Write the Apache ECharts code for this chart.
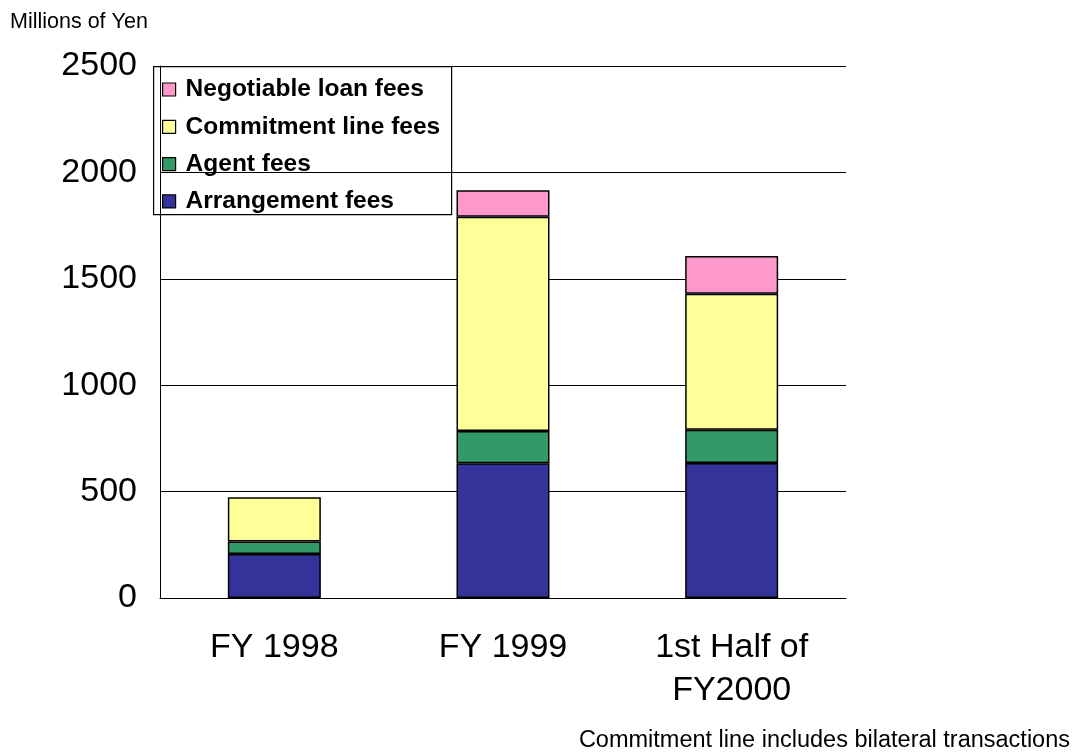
<!DOCTYPE html>
<html><head><meta charset="utf-8">
<script src="https://cdn.jsdelivr.net/npm/echarts@6/dist/echarts.min.js"></script>
<style>html,body{margin:0;padding:0;background:#fff}#c{width:1082px;height:752px}</style>
</head><body><div id="c"></div>
<script>
const categories = ['FY 1998', 'FY 1999', '1st Half of\nFY2000'];
const arrangementFees = [207, 633, 634];
const agentFees = [58, 152, 157];
const commitmentLineFees = [208, 1007, 639];
const negotiableLoanFees = [0, 124, 177];
const yTicks = [0, 500, 1000, 1500, 2000, 2500];

const chart = echarts.init(document.getElementById('c'));
const bs = {borderColor:'#000', borderWidth:1.5};
function s(name, data, color){
  return {name, type:'bar', stack:'t', data, barWidth:93,
    itemStyle:Object.assign({color}, bs), emphasis:{disabled:true}};
}
chart.setOption({
  animation:false,
  grid:{left:160, right:236, top:66, bottom:154},
  graphic:[
    {type:'rect', left:153, top:66, shape:{width:298, height:148}, z:0,
     style:{fill:'#fff', stroke:'#000', lineWidth:1.2}},
    {type:'text', left:10, top:11, style:{text:'Millions of Yen', font:'21.5px Arial', fill:'#000'}},
    {type:'text', right:12, top:729, style:{text:'Commitment line includes bilateral transactions', font:'23.5px Arial', fill:'#000'}}
  ],
  legend:{
    orient:'vertical', left:157, top:72, itemGap:12.3, itemWidth:13, itemHeight:13,
    icon:'rect', selectedMode:false, z:1,
    data:['Negotiable loan fees','Commitment line fees','Agent fees','Arrangement fees'],
    textStyle:{fontFamily:'Arial', fontWeight:'bold', fontSize:24.5, color:'#000', lineHeight:24, padding:[0,0,0,5]},
    itemStyle:{borderColor:'#000', borderWidth:1.2}
  },
  xAxis:{type:'category', data:categories,
    axisLine:{lineStyle:{color:'#000', width:1}},
    axisTick:{inside:true, length:10, lineStyle:{color:'#000'}},
    axisLabel:{fontFamily:'Arial', fontSize:34, color:'#000', margin:28, lineHeight:43}},
  yAxis:{type:'value', min:0, max:2500, interval:500,
    axisLine:{show:true, lineStyle:{color:'#000', width:1}},
    axisTick:{show:false},
    splitLine:{lineStyle:{color:'#000', width:1}},
    axisLabel:{fontFamily:'Arial', fontSize:34, color:'#000', margin:23,
      formatter:v=> yTicks.includes(v) ? String(v) : ''}},
  series:[
    s('Arrangement fees', arrangementFees, '#333399'),
    s('Agent fees', agentFees, '#339966'),
    s('Commitment line fees', commitmentLineFees, '#FFFF99'),
    s('Negotiable loan fees', negotiableLoanFees.map(v=>v===0?'-':v), '#FF99CC')
  ]
});
</script></body></html>
